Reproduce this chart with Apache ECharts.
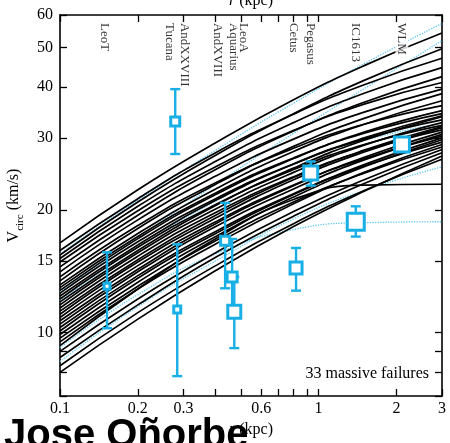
<!DOCTYPE html>
<html><head><meta charset="utf-8">
<script src="https://cdn.jsdelivr.net/npm/echarts@6/dist/echarts.min.js"></script>
<style>html,body{margin:0;padding:0;background:#fff}#c{width:450px;height:443px}</style>
</head><body><div id="c"></div>
<script>
// radii (kpc) at which each rotation curve is sampled
const rGrid = [0.1, 0.2, 0.4, 0.8, 1.5, 3];
// 33 massive-failure subhalo rotation curves (km/s)
const massiveCurves = [
  [16.6, 22.4, 29.2, 37.2, 45.1, 54.2],
  [15.9, 21.3, 27.6, 34.3, 40.5, 47.0],
  [15.5, 20.9, 27.2, 34.4, 41.5, 49.6],
  [15.2, 20.4, 26.3, 32.7, 38.6, 44.6],
  [14.9, 19.9, 25.5, 31.3, 36.3, 41.0],
  [14.5, 19.4, 25.1, 31.2, 36.7, 42.4],
  [14.1, 18.9, 24.2, 29.8, 34.7, 39.5],
  [13.7, 18.3, 23.3, 28.3, 32.4, 36.0],
  [13.4, 18.0, 23.1, 28.6, 33.5, 38.5],
  [13.1, 17.5, 22.5, 27.8, 32.4, 37.0],
  [12.9, 17.2, 22.0, 26.8, 30.8, 34.4],
  [12.7, 17.0, 21.8, 26.7, 31.0, 35.0],
  [12.5, 16.7, 21.3, 25.9, 29.8, 33.2],
  [12.3, 16.4, 21.1, 25.9, 30.0, 34.0],
  [12.1, 16.2, 20.6, 25.1, 28.9, 32.2],
  [11.9, 15.9, 20.5, 25.3, 29.6, 33.8],
  [11.7, 15.7, 20.1, 24.7, 28.8, 32.7],
  [11.5, 15.4, 19.7, 24.1, 27.9, 31.4],
  [11.3, 15.1, 19.4, 24.0, 28.0, 32.0],
  [11.1, 14.9, 19.1, 23.7, 27.7, 31.8],
  [10.9, 14.6, 18.7, 23.0, 26.7, 30.3],
  [10.7, 14.3, 18.5, 22.9, 26.9, 31.0],
  [10.5, 14.1, 18.2, 22.5, 26.5, 30.6],
  [10.3, 13.8, 17.7, 21.9, 25.6, 29.3],
  [10.1, 13.6, 17.5, 21.8, 25.8, 30.0],
  [9.9, 13.3, 17.2, 21.5, 25.5, 29.7],
  [9.7, 13.0, 16.8, 20.9, 24.6, 28.5],
  [9.5, 12.8, 16.5, 20.7, 24.7, 28.9],
  [9.0, 12.1, 15.7, 19.8, 23.7, 28.1],
  [8.7, 11.7, 15.3, 19.3, 23.2, 27.6],
  [8.3, 11.2, 14.6, 18.5, 22.3, 26.6],
  [8.0, 10.8, 14.2, 18.2, 22.2, 27.1],
  [9.3, 12.8, 17.0, 21.2, 23.0, 23.1]
];
// dotted (blue) curves
const dottedCurves = [
  [15.6, 21.1, 28.0, 36.5, 45.6, 57.2],
  [12.6, 17.1, 23.1, 30.8, 39.6, 51.9],
  [12.0, 16.2, 21.0, 26.0, 29.6, 32.6],
  [8.5, 11.6, 15.0, 19.0, 22.3, 25.5],
  [9.2, 12.4, 15.6, 17.9, 18.6, 18.7]
];
// observed dwarfs
const obsR  = [0.152, 0.279, 0.284, 0.435, 0.463, 0.472, 0.818, 0.932, 1.392, 2.10];
const obsV  = [13.0, 32.9, 11.4, 16.8, 13.7, 11.25, 14.4, 24.6, 18.7, 28.9];
const obsLo = [10.26, 27.4, 7.83, 12.85, 11.25, 9.17, 12.68, 22.92, 17.2, 28.9];
const obsHi = [15.74, 39.5, 16.47, 20.8, 16.97, 13.7, 16.13, 26.27, 20.4, 28.9];
// galaxy labels along the top
const galaxyNames = ['LeoT','Tucana','AndXXVIII','AndXVIII','Aquarius','LeoA','Cetus','Pegasus','IC1613','WLM'];
const galaxyR = [0.149, 0.266, 0.304, 0.408, 0.467, 0.510, 0.796, 0.926, 1.383, 2.10];
// axis ticks
const xTicks = [0.1,0.2,0.3,0.4,0.5,0.6,0.7,0.8,0.9,1,2,3];
const xLabels = [0.1,0.2,0.3,0.6,1,2,3];
const yTicks = [7,8,9,10,15,20,30,40,50,60];
const yLabels = [10,15,20,30,40,50,60];

const BLUE = '#18afe6';
const markerSize = [6, 9, 7, 9, 10, 13, 12, 14, 17, 15];
const SERIF = 'Liberation Serif';

const chart = echarts.init(document.getElementById('c'), null, {renderer:'canvas'});
const fmt = v => String(+(+v).toPrecision(3));
function xAx(pos, withLabels) {
  return {
    type:'log', logBase:10, min:0.1, max:3, position:pos,
    axisLine:{show:true, onZero:false, lineStyle:{color:'#000', width:1.6}},
    axisTick:{show:true, inside:true, length:7, customValues:xTicks, lineStyle:{color:'#000', width:1.3}},
    axisLabel:{show:withLabels, customValues:xLabels, formatter:fmt, fontFamily:SERIF, fontSize:16, color:'#000', margin:5},
    splitLine:{show:false}, minorTick:{show:false},
    name:'{i|r}{n| (kpc)}', nameLocation:'middle', nameGap: pos==='bottom'?24:6,
    nameTextStyle:{rich:{i:{fontFamily:SERIF, fontStyle:'italic', fontSize:16, color:'#000'}, n:{fontFamily:SERIF, fontSize:16, color:'#000'}}}
  };
}
function yAx(pos, withLabels) {
  return {
    type:'log', logBase:10, min:7, max:60, position:pos,
    axisLine:{show:true, onZero:false, lineStyle:{color:'#000', width:1.6}},
    axisTick:{show:true, inside:true, length:7, customValues:yTicks, lineStyle:{color:'#000', width:1.3}},
    axisLabel:{show:withLabels, customValues:yLabels, formatter:fmt, fontFamily:SERIF, fontSize:16, color:'#000', margin:7},
    splitLine:{show:false}, minorTick:{show:false},
    name: withLabels ? '{a|V}{b|circ}{a| (km/s)}' : '', nameLocation:'middle', nameGap:27,
    nameTextStyle:{rich:{a:{fontFamily:SERIF, fontSize:16, color:'#000', lineHeight:20, verticalAlign:'middle'},
                         b:{fontFamily:SERIF, fontSize:11, color:'#000', lineHeight:24, verticalAlign:'bottom'}}}
  };
}

const series = [];
dottedCurves.forEach((c, i) => series.push({
  type:'line', xAxisIndex:0, yAxisIndex:0, data:rGrid.map((r,j)=>[r,c[j]]), smooth:0.5,
  showSymbol:false, symbol:'none', silent:true, z:1,
  lineStyle:{color:'#5cc6f0', width:1.3, type:'dotted'}
}));
massiveCurves.forEach((c, i) => series.push({
  type:'line', xAxisIndex:0, yAxisIndex:0, data:rGrid.map((r,j)=>[r,c[j]]), smooth:0.5,
  showSymbol:false, symbol:'none', silent:true, z:2,
  lineStyle:{color:'#000', width:1.7}
}));
series.push({
  type:'custom', xAxisIndex:0, yAxisIndex:0, z:5,
  data: obsR.map((r,i)=>[r, obsLo[i], obsHi[i]]),
  renderItem:(params, api) => {
    const p1 = api.coord([api.value(0), api.value(1)]);
    const p2 = api.coord([api.value(0), api.value(2)]);
    if (Math.abs(p1[1]-p2[1]) < 1) return {type:'group', children:[]};
    const cap = 5, st = {stroke:BLUE, lineWidth:2.4};
    return {type:'group', children:[
      {type:'line', shape:{x1:p1[0], y1:p1[1], x2:p2[0], y2:p2[1]}, style:st},
      {type:'line', shape:{x1:p1[0]-cap, y1:p1[1], x2:p1[0]+cap, y2:p1[1]}, style:st},
      {type:'line', shape:{x1:p2[0]-cap, y1:p2[1], x2:p2[0]+cap, y2:p2[1]}, style:st}
    ]};
  }
});
series.push({
  type:'scatter', xAxisIndex:0, yAxisIndex:0, z:6, symbol:'rect',
  data: obsR.map((r,i)=>[r, obsV[i]]),
  symbolSize:(v, p) => markerSize[p.dataIndex],
  itemStyle:{color:'#fff', borderColor:BLUE, borderWidth:3, opacity:1}
});
series.push({
  type:'scatter', xAxisIndex:0, yAxisIndex:0, z:8, symbolSize:0.1, silent:true,
  data: galaxyR.map((r,i)=>({value:[r, 60], name:galaxyNames[i]})),
  itemStyle:{color:'transparent'},
  label:{show:true, formatter:p=>p.name, position:[0,7], rotate:-90, align:'left', verticalAlign:'middle',
         fontFamily:SERIF, fontSize:13, color:'#000', backgroundColor:'#fff', padding:[0,1]}
});

chart.setOption({
  animation:false,
  backgroundColor:'#fff',
  grid:{left:60, right:8, top:15, bottom:47, containLabel:false, outerBoundsMode:'none'},
  xAxis:[xAx('bottom', true), xAx('top', false)],
  yAxis:[yAx('left', true), yAx('right', false)],
  series,
  graphic:[
    {type:'text', right:21, top:366, z:50, style:{text:'33 massive failures', fontFamily:SERIF, fontSize:16, fill:'#000'}},
    {type:'text', left:4, top:416, z:100, style:{text:'Jose Oñorbe', font:'bold 40px "Liberation Sans"', fill:'#000'}}
  ]
});
</script></body></html>
